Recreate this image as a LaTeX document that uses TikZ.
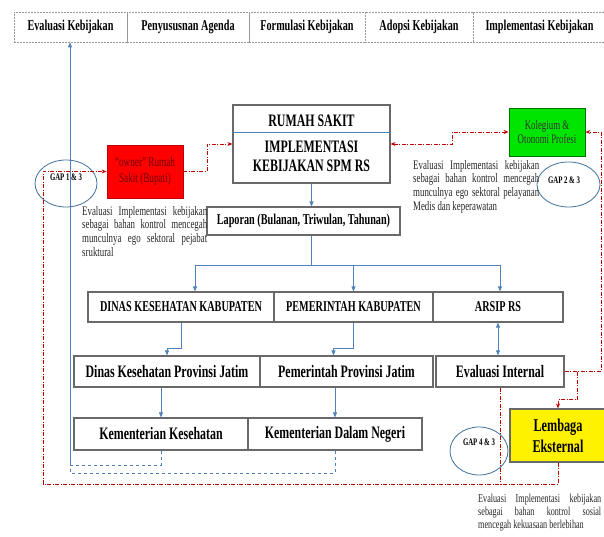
\documentclass[tikz,border=0pt]{standalone}
\usepackage{fontspec}
\setmainfont{Liberation Serif}[FakeStretch=0.68]
\usetikzlibrary{calc,arrows.meta,shapes.geometric}
\definecolor{boxgray}{RGB}{105,105,105}
\definecolor{lineblue}{RGB}{80,130,185}
\definecolor{gapblue}{RGB}{65,113,156}
\definecolor{linered}{RGB}{192,0,0}
\definecolor{ownertext}{RGB}{110,0,0}
\def\drawblue{\draw[color=lineblue, line width=0.8pt]}
\def\drawred{\draw[color=linered, line width=0.8pt, dash pattern=on 4pt off 1.5pt on 1pt off 1.5pt, >={Stealth[length=5pt,width=4pt]}]}
\def\boxnode{\node[draw=boxgray,fill=white,line width=1.1pt,inner sep=0pt]}
\def\gapnode{\node[ellipse,draw=gapblue,line width=0.8pt,inner sep=0pt]}

\begin{document}
\begin{tikzpicture}[x=1pt,y=-1pt,>={Triangle[length=5pt,width=4pt]},
  stage/.style={draw=gray!80, line width=0.8pt, dash pattern=on 2pt off 1pt, minimum height=30pt,
    inner sep=0pt, font={\fontsize{15}{17}\selectfont\bfseries}},
  rowa/.style={font={\fontsize{15}{17}\selectfont\bfseries}},
  rowb/.style={font={\fontsize{17.5}{19}\selectfont\bfseries}},
  desc/.style={inner sep=0pt, align=justify, anchor=north west, text=black!85,
    font={\fontsize{13}{13.6}\selectfont}},
  gaptext/.style={inner sep=0pt, font={\fontsize{10}{11}\selectfont\bfseries}}]
\useasboundingbox (0,0) rectangle (604,537);

% Tahap siklus kebijakan
\node[stage, minimum width=113pt] (eval) at (70.5,27) {Evaluasi Kebijakan};
\node[stage, minimum width=122pt] (peny) at (188,27) {Penyususnan Agenda};
\node[stage, minimum width=116pt] (form) at (307,27) {Formulasi Kebijakan};
\node[stage, minimum width=108pt] (adop) at (419,27) {Adopsi Kebijakan};
\node[stage, minimum width=133pt] (impl) at (539.5,27) {Implementasi Kebijakan};

% Rumah sakit dan laporan
\boxnode[minimum width=157pt, minimum height=78pt] (rs) at (311.5,144) {};
\drawblue (rs.west |- 0,132) -- (rs.east |- 0,132);
\node[rowb] (rstitle) at (311.5,121) {RUMAH SAKIT};
\node[rowb, align=center] (rsbody) at (311.5,156) {IMPLEMENTASI\\KEBIJAKAN SPM RS};
\boxnode[rowa, minimum width=193pt, minimum height=28pt] (lap) at (303.5,221) {Laporan (Bulanan, Triwulan, Tahunan)};

% Owner, kolegium, lembaga
\node[draw=linered, fill=red, line width=0.8pt, minimum width=76pt, minimum height=53pt, align=center,
  text=ownertext, font={\fontsize{13.5}{16}\selectfont}] (owner) at (145,171.5) {``owner'' Rumah\\Sakit (Bupati)};
\node[draw=green!45!black, fill=green!90!black, line width=0.8pt, minimum width=76pt, minimum height=48pt,
  align=center, text=black!80, font={\fontsize{13}{14.5}\selectfont}] (kol) at (547,132) {Kolegium \&\\Otonomi Profesi};
\boxnode[fill=yellow, minimum width=96pt, minimum height=53pt, align=center,
  font={\fontsize{18}{21}\selectfont\bfseries}] (lemb) at (558,435.5) {Lembaga\\Eksternal};

% Baris kabupaten
\boxnode[rowa, minimum width=186pt, minimum height=30pt] (dkab) at (181,307) {DINAS KESEHATAN KABUPATEN};
\boxnode[rowa, minimum width=159pt, minimum height=30pt] (pkab) at (353.5,307) {PEMERINTAH KABUPATEN};
\boxnode[rowa, minimum width=130pt, minimum height=30pt] (arsip) at (498,307) {ARSIP RS};

% Baris provinsi
\boxnode[rowb, minimum width=186pt, minimum height=31pt] (dprov) at (167,371.5) {Dinas Kesehatan Provinsi Jatim};
\boxnode[rowb, minimum width=173pt, minimum height=31pt] (pprov) at (346.5,371.5) {Pemerintah Provinsi Jatim};
\boxnode[rowb, minimum width=128pt, minimum height=31pt] (evint) at (500,371.5) {Evaluasi Internal};

% Baris kementerian
\boxnode[rowb, minimum width=174pt, minimum height=32pt] (kkes) at (161,434) {Kementerian Kesehatan};
\boxnode[rowb, minimum width=174pt, minimum height=32pt] (kdn) at (335,434) {Kementerian Dalam Negeri};

% GAP
\gapnode[minimum width=62pt, minimum height=47pt] (gapa) at (66,183.5) {};
\node[gaptext] (gapatext) at (66,177) {GAP 1 \& 3};
\gapnode[minimum width=63pt, minimum height=45pt] (gapb) at (568.5,184.5) {};
\node[gaptext] (gapbtext) at (564,180) {GAP 2 \& 3};
\gapnode[minimum width=58pt, minimum height=48pt] (gapc) at (479,451) {};
\node[gaptext] (gapctext) at (479,442) {GAP 4 \& 3};

% Keterangan
\node[desc, text width=125pt] (descl) at (82,206) {Evaluasi Implementasi kebijakan\linebreak
  sebagai bahan kontrol mencegah\linebreak munculnya ego sektoral pejabat\linebreak sruktural};
\node[desc, text width=126pt] (descm) at (413,160) {Evaluasi Implementasi kebijakan\linebreak
  sebagai bahan kontrol mencegah\linebreak munculnya ego sektoral pelayanan\linebreak Medis dan keperawatan};
\node[desc, text width=123pt, font={\fontsize{12}{13}\selectfont}] (descb) at (478,494) {Evaluasi Implementasi kebijakan\linebreak
  sebagai bahan kontrol sosial\linebreak mencegah kekuasaan berlebihan};

% Alur laporan (biru)
\coordinate (split) at (311.5,265);
\coordinate (sl) at (195,265);
\coordinate (sr) at (500,265);
\drawblue[->] (rs.south) -- (rs.south |- lap.north);
\drawblue (rs.south |- lap.south) -- (split);
\drawblue (sl) -- (sr);
\drawblue[->] (sl) -- (sl |- dkab.north);
\drawblue[->] (split -| pkab.north) -- (pkab.north);
\drawblue[->] (sr) -- (sr |- arsip.north);
\coordinate (pin) at ($(pprov.north)+(-13,0)$);
\drawblue[->] (dkab.south) -- ++(0,26) -| (dprov.north);
\drawblue[->] (pkab.south) -- ++(0,26) -| (pin);
\drawblue[<->] (arsip.south) -- (arsip.south |- evint.north);
\drawblue[->] (kkes.north |- dprov.south) -- (kkes.north);
\drawblue[->] (kdn.north |- pprov.south) -- (kdn.north);

% Umpan balik ke evaluasi kebijakan
\coordinate (fba) at (70,465);
\coordinate (fbb) at (70,473);
\drawblue[dashed] (kkes.south) -- (kkes.south |- fba) -- (fba);
\drawblue[dashed] (kdn.south) -- (kdn.south |- fbb) -- (fbb) -- (fba);
\drawblue[->] (fba) -- (fba |- eval.south);

% Kontrol (merah)
\coordinate (rc) at (601,371.5);
\coordinate (lb) at (577,371.5);
\coordinate (bl) at (43,484);
\drawred[->] (owner.east) -- ++(24,0) |- (rs.west);
\drawred[<->] (rs.east) -- ++(62,0) |- (kol.west);
\drawred[->] (evint.east) -- (rc) |- (kol.east);
\drawred[->] (lb) -- ++(0,28) -| (lemb.north);
\drawred (evint.south) -- (evint.south |- bl);
\drawred[->] (lemb.south) -- (lemb.south |- bl) -- (bl) |- (owner.west);
\end{tikzpicture}
\end{document}
